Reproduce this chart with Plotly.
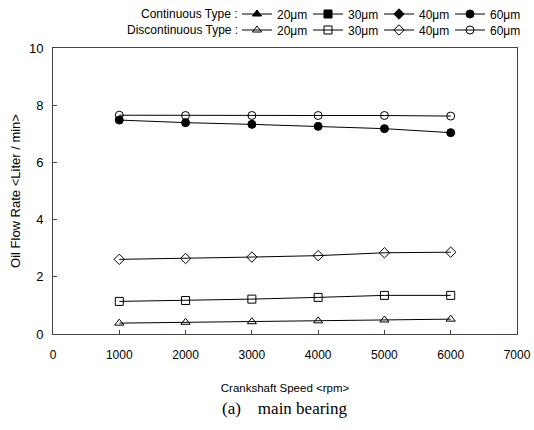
import plotly.graph_objects as go

speed = [1000, 2000, 3000, 4000, 5000, 6000]

cont_20 = []
cont_30 = []
cont_40 = []
cont_60 = [7.48, 7.39, 7.33, 7.26, 7.18, 7.04]

disc_20 = [0.38, 0.41, 0.43, 0.46, 0.49, 0.52]
disc_30 = [1.14, 1.17, 1.22, 1.28, 1.35, 1.35]
disc_40 = [2.61, 2.64, 2.69, 2.74, 2.84, 2.86]
disc_60 = [7.65, 7.64, 7.64, 7.64, 7.64, 7.62]

labels = ["20μm", "30μm", "40μm", "60μm"]
group_titles = ["Continuous Type :", "Discontinuous Type :"]
cont_series = [cont_20, cont_30, cont_40, cont_60]
disc_series = [disc_20, disc_30, disc_40, disc_60]
cont_symbols = ["triangle-up", "square", "diamond", "circle"]
disc_symbols = ["triangle-up-open", "square-open", "diamond-open", "circle-open"]

fig = go.Figure()

FONT = "Liberation Sans"
W, H = 534, 430
ML, MR, MT, MB = 53, 17, 48, 96
PLOT_H = H - MT - MB
PLOT_W = W - ML - MR


def xy(ys):
    # series without measured points appear only in the legend
    if ys:
        return speed, ys
    return [None], [None]


for lab, ys, sym in zip(labels, cont_series, cont_symbols):
    xs, yv = xy(ys)
    fig.add_trace(go.Scatter(
        x=xs, y=yv, mode="lines+markers", name=lab,
        line=dict(color="black", width=1),
        marker=dict(symbol=sym, size=8, color="black", line=dict(color="black", width=1)),
        legend="legend", showlegend=True,
    ))

for lab, ys, sym in zip(labels, disc_series, disc_symbols):
    xs, yv = xy(ys)
    fig.add_trace(go.Scatter(
        x=xs, y=yv, mode="lines+markers", name=lab,
        line=dict(color="black", width=1),
        marker=dict(symbol=sym, size=8, color="black", line=dict(color="black", width=1)),
        legend="legend2", showlegend=True,
    ))

legend_common = dict(
    orientation="h", xref="paper", yref="paper",
    xanchor="right", yanchor="middle", x=(521 - ML) / PLOT_W,
    font=dict(family=FONT, size=12, color="black"),
    bgcolor="rgba(0,0,0,0)", itemwidth=30,
    entrywidth=26, entrywidthmode="pixels",
    tracegroupgap=0, itemclick=False,
)

ROW_Y = [14, 30]

fig.update_layout(
    width=W, height=H,
    paper_bgcolor="white", plot_bgcolor="white",
    margin=dict(l=ML, r=MR, t=MT, b=MB, autoexpand=False),
    showlegend=True,
    font=dict(family=FONT, size=12, color="black"),
    legend=dict(legend_common, y=(H - MB - ROW_Y[0]) / PLOT_H),
    legend2=dict(legend_common, y=(H - MB - ROW_Y[1]) / PLOT_H),
    xaxis=dict(
        range=[0, 7000], dtick=1000, tick0=0,
        showgrid=False, zeroline=False, automargin=False,
        showline=True, linecolor="#444", linewidth=1, mirror=True,
        ticks="inside", ticklen=4, tickcolor="#444",
        ticklabelstandoff=10,
        tickfont=dict(family=FONT, size=12, color="black"),
        title=dict(text="Crankshaft Speed &lt;rpm&gt;", font=dict(family=FONT, size=11.5), standoff=22),
    ),
    yaxis=dict(
        range=[0, 10], dtick=2, tick0=0,
        showgrid=False, zeroline=False, automargin=False,
        showline=True, linecolor="#444", linewidth=1, mirror=True,
        ticks="inside", ticklen=4, tickcolor="#444",
        ticklabelstandoff=6,
        tickfont=dict(family=FONT, size=13, color="black"),
        title=dict(text="Oil Flow Rate &lt;Liter / min&gt;", font=dict(family=FONT, size=13), standoff=5),
    ),
)

# legend row titles
for title, ry in zip(group_titles, ROW_Y):
    fig.add_annotation(
        text=title, xref="paper", yref="paper",
        x=(240 - ML) / PLOT_W, y=(H - MB - ry) / PLOT_H,
        xanchor="right", yanchor="middle", showarrow=False,
        font=dict(family=FONT, size=12, color="black"),
    )

fig.add_annotation(
    text="(a)&nbsp;&nbsp;&nbsp; main bearing", xref="paper", yref="paper",
    x=0.5, y=-(408 - (H - MB)) / PLOT_H, xanchor="center", yanchor="middle", showarrow=False,
    font=dict(family="Liberation Serif", size=17, color="black"),
)

fig.write_html("out.html", config={"displayModeBar": False},
               post_script="document.body.style.margin='0';")
